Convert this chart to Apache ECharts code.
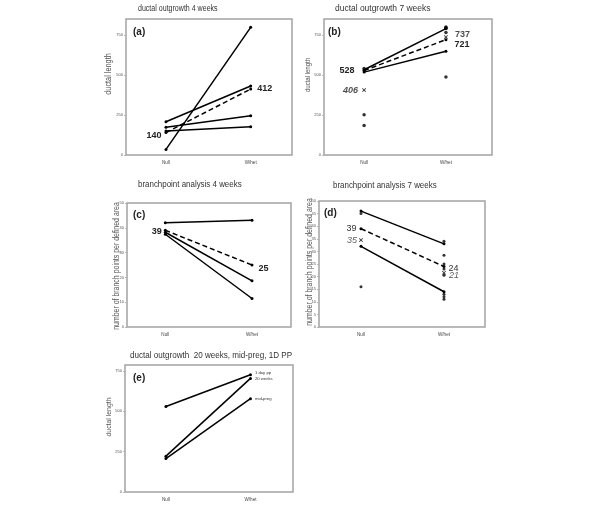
<!DOCTYPE html>
<html><head><meta charset="utf-8">
<script src="https://cdn.jsdelivr.net/npm/echarts@6/dist/echarts.min.js"></script>
<style>html,body{margin:0;padding:0;background:#fff}#c{width:600px;height:505px}</style>
</head><body><div id="c"></div>
<script>
// ---------- data ----------
const xCategories = ['Null', 'W/het'];

// (a) ductal outgrowth 4 weeks
const aSolid = [[208, 431], [173, 246], [150, 177], [35, 798]];
const aDashed = [140, 412];

// (b) ductal outgrowth 7 weeks
const bSolid = [[533, 790], [518, 648]];
const bDashed = [528, 721];
const bNullDots = [540, 252, 185];
const bWhetDots = [800, 795, 790, 765, 488];
const bCross = [406, 737];

// (c) branchpoint analysis 4 weeks
const cSolid = [[42, 43], [38.2, 18.6], [37.4, 11.5]];
const cDashed = [39, 25];

// (d) branchpoint analysis 7 weeks
const dSolid = [[46, 33], [32, 14]];
const dDashed = [39, 24];
const dNullDots = [45, 16];
const dWhetDots = [34, 28.5, 25, 23, 20.5, 13, 12, 11];
const dCross = [34.5, 21.5];
const dCrossLabels = ['35', '21'];

// (e) ductal outgrowth 20 weeks, mid-preg, 1D PP
const eSolid = [[530, 727], [222, 704], [207, 578]];
const eNames = ['1 day pp', '20 weeks', 'mid-preg'];

const titles = ['ductal outgrowth 4 weeks', 'ductal outgrowth 7 weeks', 'branchpoint analysis 4 weeks',
  'branchpoint analysis 7 weeks', 'ductal outgrowth  20 weeks, mid-preg, 1D PP'];
const panelLetters = ['(a)', '(b)', '(c)', '(d)', '(e)'];
const yNames = ['ductal length', 'ductal length', 'number of branch points per defined area',
  'number of branch points per defined area', 'ductal length'];
const lengthTicks = [0, 250, 500, 750];
const bp4Ticks = [0, 10, 20, 30, 40, 50];
const bp7Ticks = [0, 5, 10, 15, 20, 25, 30, 35, 40, 45, 50];

// ---------- layout ----------
const SANS = "'Liberation Sans',Arial,sans-serif";
const panels = [
  {left: 126, top: 19, width: 166, height: 136, xmin: -0.472, xmax: 1.488, ymax: 850, ticks: lengthTicks},
  {left: 324, top: 19, width: 168, height: 136, xmin: -0.49, xmax: 1.563, ymax: 850, ticks: lengthTicks},
  {left: 127, top: 203, width: 164, height: 124, xmin: -0.442, xmax: 1.45, ymax: 50, ticks: bp4Ticks},
  {left: 319, top: 201, width: 166, height: 126, xmin: -0.506, xmax: 1.494, ymax: 50, ticks: bp7Ticks},
  {left: 125, top: 365, width: 168, height: 127, xmin: -0.484, xmax: 1.503, ymax: 787, ticks: lengthTicks}
];
// [x, y, fontSize, scaleX]
const titlePos = [[138, 8.5, 8.5, 0.83], [335, 8, 9.5, 0.89], [138, 184, 9.5, 0.835], [333, 185.5, 9.5, 0.835], [130, 355, 9.5, 0.85]];
const letterPos = [[133, 32], [328, 32], [133, 215], [324, 213], [133, 378]];
const yNamePos = [[109, 74, 8.5, 0.86], [308, 75, 7, 0.86], [117, 266, 8.2, 0.85], [310, 262, 8.2, 0.85], [109, 417, 8, 0.86]];

const grids = panels.map(p => ({
  left: p.left, top: p.top, width: p.width, height: p.height,
  show: true, borderColor: '#a3a3a3', borderWidth: 1.5, backgroundColor: 'transparent'
}));
const xAxes = panels.map((p, i) => ({
  type: 'value', gridIndex: i, min: p.xmin, max: p.xmax,
  axisLine: {show: false, onZero: false}, axisTick: {show: false}, splitLine: {show: false},
  axisLabel: {customValues: [0, 1], formatter: v => xCategories[Math.round(v)],
    fontSize: 4.6, fontFamily: SANS, color: '#444', margin: 5}
}));
const yAxes = panels.map((p, i) => ({
  type: 'value', gridIndex: i, min: 0, max: p.ymax,
  axisLine: {show: false, onZero: false}, splitLine: {show: false},
  axisTick: {show: true, customValues: p.ticks, length: 2, lineStyle: {color: '#aaa', width: 0.8}},
  axisLabel: {customValues: p.ticks, fontSize: 4, fontFamily: SANS, color: '#555', margin: 3}
}));

const series = [];
const lineStyleSolid = {color: '#000', width: 1.5};
const lineStyleDash = {color: '#000', width: 1.5, type: [5, 3]};
function addLine(i, pair, dashed, labels) {
  series.push({
    type: 'line', xAxisIndex: i, yAxisIndex: i, symbol: 'circle', symbolSize: 3,
    itemStyle: {color: '#000'}, lineStyle: dashed ? lineStyleDash : lineStyleSolid,
    animation: false, silent: true,
    data: pair.map((v, k) => {
      const item = {value: [k, v]};
      if (labels && labels[k]) item.label = Object.assign({show: true}, labels[k]);
      return item;
    })
  });
}
function addDots(i, xIdx, vals, symbol, size, labels) {
  series.push({
    type: 'scatter', xAxisIndex: i, yAxisIndex: i, symbol: symbol || 'circle', symbolSize: size || 3.5,
    itemStyle: {color: '#000'}, animation: false, silent: true,
    data: vals.map((v, k) => {
      const item = {value: [xIdx, v]};
      if (labels && labels[k]) item.label = Object.assign({show: true}, labels[k]);
      return item;
    })
  });
}
const numLbl = (pos, dist, off, extra) => Object.assign({
  position: pos, distance: dist, offset: [0, off], fontSize: 9, fontWeight: 'bold',
  fontFamily: SANS, color: '#222'
}, extra || {});
const CROSS = 'path://M0,1.5L1.5,0L5,3.5L8.5,0L10,1.5L6.5,5L10,8.5L8.5,10L5,6.5L1.5,10L0,8.5L3.5,5Z';

// (a)
aSolid.forEach(p => addLine(0, p, false));
addLine(0, aDashed, true, [numLbl('left', 3, 2.5), numLbl('right', 5, -1)]);
// (b)
bSolid.forEach(p => addLine(1, p, false));
addLine(1, bDashed, true, [numLbl('left', 8, 0), numLbl('right', 7, 4.7)]);
addDots(1, 0, bNullDots, 'circle', 3.5);
addDots(1, 1, bWhetDots, 'circle', 3.5);
addDots(1, 0, [bCross[0]], CROSS, 4, [numLbl('left', 4, 0, {fontStyle: 'italic'})]);
addDots(1, 1, [bCross[1]], CROSS, 4, [numLbl('right', 7, -2.5)]);
// (c)
cSolid.forEach(p => addLine(2, p, false));
addLine(2, cDashed, true, [numLbl('left', 2, 1), numLbl('right', 5, 4)]);
// (d)
dSolid.forEach(p => addLine(3, p, false));
const dLbl = (pos, dist, off, extra) => numLbl(pos, dist, off, Object.assign({fontWeight: 'normal', fontSize: 9, color: '#333'}, extra || {}));
addLine(3, dDashed, true, [dLbl('left', 3, 0), dLbl('right', 3, 2)]);
addDots(3, 0, dNullDots, 'circle', 3);
addDots(3, 1, dWhetDots, 'circle', 3);
addDots(3, 0, [dCross[0]], CROSS, 4, [dLbl('left', 2, 0, {fontStyle: 'italic', formatter: dCrossLabels[0]})]);
addDots(3, 1, [dCross[1]], CROSS, 4, [dLbl('right', 3, 2.5, {fontStyle: 'italic', formatter: dCrossLabels[1]})]);
// (e)
eSolid.forEach((p, k) => addLine(4, p, false, [null, {
  position: 'right', distance: 3, offset: [0, k === 0 ? -1.5 : 0], formatter: eNames[k],
  fontSize: 4.2, fontFamily: SANS, color: '#333'
}]));

const graphic = [];
titles.forEach((t, i) => graphic.push({
  type: 'text', x: titlePos[i][0], y: titlePos[i][1], scaleX: titlePos[i][3], silent: true,
  style: {text: t, fontSize: titlePos[i][2], fontFamily: SANS, fill: '#333', align: 'left', verticalAlign: 'middle'}
}));
panelLetters.forEach((t, i) => graphic.push({
  type: 'text', x: letterPos[i][0], y: letterPos[i][1], silent: true,
  style: {text: t, fontSize: 10, fontWeight: 'bold', fontFamily: SANS, fill: '#222', align: 'left', verticalAlign: 'middle'}
}));
yNames.forEach((t, i) => graphic.push({
  type: 'text', x: yNamePos[i][0], y: yNamePos[i][1], rotation: Math.PI / 2, scaleX: yNamePos[i][3], silent: true,
  style: {text: t, fontSize: yNamePos[i][2], fontFamily: SANS, fill: '#555', align: 'center', verticalAlign: 'middle'}
}));

const chart = echarts.init(document.getElementById('c'), null, {renderer: 'canvas'});
chart.setOption({
  animation: false, backgroundColor: '#fff',
  grid: grids, xAxis: xAxes, yAxis: yAxes, series: series, graphic: graphic
});
</script></body></html>
